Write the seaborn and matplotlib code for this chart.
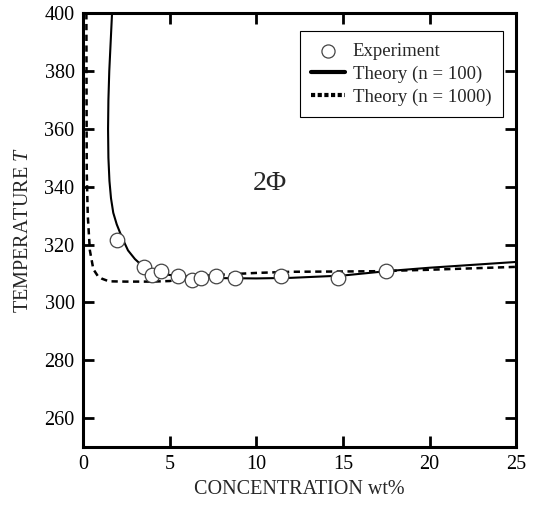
import matplotlib
matplotlib.use("Agg")
import matplotlib.pyplot as plt
import seaborn as sns
import pandas as pd
import numpy as np

# Experimental data
exp_conc = [1.95, 3.5, 4.0, 4.5, 5.5, 6.3, 6.8, 7.7, 8.8, 11.4, 14.7, 17.5]
exp_temp = [321.7, 312.2, 309.5, 310.8, 309.0, 307.7, 308.5, 309.0, 308.5, 309.0, 308.5, 310.8]

# Theory n = 100 (solid)
th100_conc = [1.68, 1.6, 1.52, 1.47, 1.45, 1.47, 1.53, 1.62, 1.75, 1.95, 2.25, 2.6, 3.0, 3.4, 4.0, 4.5, 5.0, 6.0, 7.0, 8.0, 10.0, 12.0, 15.0, 17.5, 20.0, 22.5, 25.0]
th100_temp = [400, 390, 380, 370, 360, 350, 342, 336, 331, 327, 322.5, 318, 315, 312.8, 311.0, 310.0, 309.5, 309.0, 308.6, 308.4, 308.3, 308.5, 309.3, 310.8, 312.0, 313.0, 314.0]

# Theory n = 1000 (dashed)
th1000_conc = [0.2, 0.21, 0.22, 0.28, 0.4, 0.6, 0.85, 1.1, 1.5, 2.5, 4.0, 5.0, 5.8, 6.5, 8.0, 10.0, 12.0, 15.0, 17.0, 20.0, 22.5, 25.0]
th1000_temp = [400, 370, 345, 330, 318, 311.5, 309.2, 308.2, 307.3, 307.2, 307.2, 307.4, 308.2, 309.0, 309.6, 310.2, 310.6, 310.7, 310.8, 311.3, 311.8, 312.3]

sns.set_theme(style="ticks")
plt.rcParams['font.family'] = ['Liberation Serif', 'DejaVu Serif']
plt.rcParams['mathtext.fontset'] = 'custom'
plt.rcParams['mathtext.it'] = 'Liberation Serif:italic'
plt.rcParams['mathtext.rm'] = 'Liberation Serif'

fig = plt.figure(figsize=(5.35, 5.08), dpi=100)
ax = fig.add_axes([0.155, 0.12, 0.81, 0.854])

df100 = pd.DataFrame({"c": th100_conc, "T": th100_temp})
df1000 = pd.DataFrame({"c": th1000_conc, "T": th1000_temp})
dfe = pd.DataFrame({"c": exp_conc, "T": exp_temp})

sns.lineplot(data=df100, x="c", y="T", sort=False, estimator=None, errorbar=None, ax=ax,
             color="black", lw=1.5, label="Theory (n = 100)")
sns.lineplot(data=df1000, x="c", y="T", sort=False, estimator=None, errorbar=None, ax=ax,
             color="black", lw=1.8, label="Theory (n = 1000)")
ax.lines[1].set_dashes([2.5, 1.8])
sns.scatterplot(data=dfe, x="c", y="T", ax=ax, s=110, facecolor="white", edgecolor="#444444",
                linewidth=0.9, zorder=5, label="Experiment")

ax.set_xlim(0, 25)
ax.set_ylim(250, 400)
ax.set_xticks([0, 5, 10, 15, 20, 25])
ax.set_yticks([260, 280, 300, 320, 340, 360, 380, 400])
ax.tick_params(direction="in", length=8, width=2, labelsize=14.5, top=True, right=True, colors="black", pad=6)
for s in ax.spines.values():
    s.set_linewidth(2.2)
    s.set_color("black")

ax.set_xlabel("CONCENTRATION wt%", fontsize=14.5, labelpad=4)
ax.set_ylabel("TEMPERATURE $T$", fontsize=14.5, labelpad=8)

ax.text(10.8, 341, "2Φ", fontsize=20, ha="center", va="center")

handles, labels = ax.get_legend_handles_labels()
order = [2, 0, 1]
leg = ax.legend([handles[i] for i in order], [labels[i] for i in order],
                loc="upper right", bbox_to_anchor=(0.99, 0.98), fontsize=13.5,
                frameon=True, fancybox=False, edgecolor="black", framealpha=1,
                handlelength=1.8, handletextpad=0.4, borderpad=0.6, labelspacing=0.3,
                markerscale=0.9)
leg.get_frame().set_linewidth(0.8)
leg.legend_handles[1].set_linewidth(3)
leg.legend_handles[2].set_linewidth(3)
leg.legend_handles[2].set_dashes([1, 0.6])

fig.savefig("out.png", dpi=100)
